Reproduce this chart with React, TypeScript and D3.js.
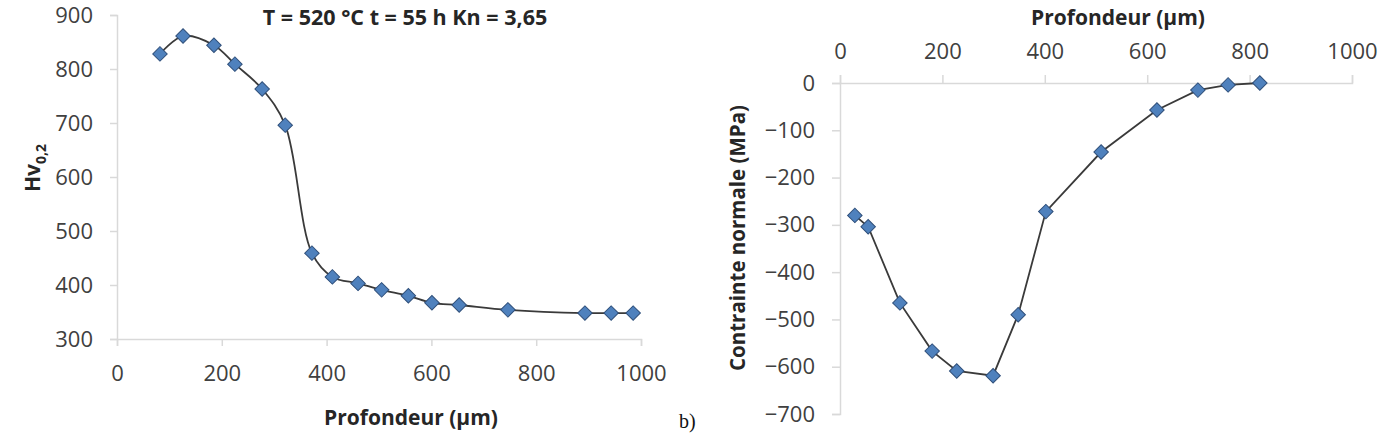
import React, { useEffect, useRef } from 'react';
import * as d3 from 'd3';

// left chart: hardness profile
const hvDepth = [82, 126, 185, 225, 277, 321, 372, 411, 460, 505, 556, 601, 653, 746, 893, 943, 985];
const hvValue = [828, 861, 844, 809, 763, 696, 459, 415, 403, 391, 380, 367, 363, 354, 348, 348, 348];
const hvTicksX = [0, 200, 400, 600, 800, 1000];
const hvTicksY = [300, 400, 500, 600, 700, 800, 900];

// right chart: residual stress profile
const stDepth = [29, 55, 117, 180, 228, 299, 348, 402, 510, 619, 699, 758, 820];
const stValue = [-280, -304, -465, -567, -609, -619, -490, -272, -146, -57, -15, -4, 0];
const stTicksX = [0, 200, 400, 600, 800, 1000];
const stTicksY = [0, -100, -200, -300, -400, -500, -600, -700];

const FONT = "'Open Sans', sans-serif";
const AXIS = '#d9d9d9';
const TXT = '#404040';
const TITLE = '#262626';

function styleAxis(g: any) {
  g.select('.domain').attr('stroke', AXIS).attr('stroke-width', 1.5);
  g.selectAll('.tick line').attr('stroke', AXIS).attr('stroke-width', 1.5);
  g.selectAll('.tick text').attr('fill', TXT).style('font-family', FONT).style('font-size', '22px');
}

function drawSeries(g: any, xs: number[], ys: number[], x: any, y: any, curve: any) {
  const pts = xs.map((d, i) => [d, ys[i]]);
  const line = d3.line<number[]>().x(d => x(d[0])).y(d => y(d[1])).curve(curve);
  g.append('path').attr('d', line(pts)).attr('fill', 'none').attr('stroke', '#3a3a3a').attr('stroke-width', 1.8);
  const sym = d3.symbol().type(d3.symbolSquare).size(105);
  g.selectAll('path.mk').data(pts).join('path')
    .attr('class', 'mk')
    .attr('d', sym)
    .attr('transform', (d: number[]) => `translate(${x(d[0])},${y(d[1])}) rotate(45)`)
    .attr('fill', '#4f81bd')
    .attr('stroke', '#2f4f7a')
    .attr('stroke-width', 1);
}

function App() {
  const ref = useRef<SVGSVGElement>(null);

  useEffect(() => {
    document.body.style.margin = '0';
    const svg = d3.select(ref.current);
    svg.selectAll('*').remove();

    // ---- left chart
    const x1 = d3.scaleLinear().domain([0, 1000]).range([117, 641]);
    const y1 = d3.scaleLinear().domain([300, 900]).range([339, 15]);
    const gx1 = svg.append('g').attr('transform', 'translate(0,339)')
      .call(d3.axisBottom(x1).tickValues(hvTicksX).tickSize(7).tickPadding(19).tickFormat(d3.format('d')));
    styleAxis(gx1);
    const gy1 = svg.append('g').attr('transform', 'translate(117,0)')
      .call(d3.axisLeft(y1).tickValues(hvTicksY).tickSize(7).tickPadding(17).tickFormat(d3.format('d')));
    styleAxis(gy1);
    drawSeries(svg.append('g'), hvDepth, hvValue, x1, y1, d3.curveCatmullRom);

    svg.append('text').attr('x', 405).attr('y', 25).attr('text-anchor', 'middle')
      .style('font-family', FONT).style('font-size', '21.5px').style('font-weight', 'bold').attr('fill', TITLE)
      .text('T = 520 °C t = 55 h Kn = 3,65');
    svg.append('text').attr('x', 411).attr('y', 425).attr('text-anchor', 'middle')
      .style('font-family', FONT).style('font-size', '21px').style('font-weight', 'bold').attr('fill', TITLE)
      .text('Profondeur (µm)');
    const hv = svg.append('text').attr('transform', 'translate(40,168) rotate(-90)').attr('text-anchor', 'middle')
      .style('font-family', FONT).style('font-size', '21px').style('font-weight', 'bold').attr('fill', TITLE);
    hv.append('tspan').text('Hv');
    hv.append('tspan').attr('dy', 6).style('font-size', '14px').text('0,2');

    svg.append('text').attr('x', 679).attr('y', 428)
      .style('font-family', "'Liberation Serif', serif").style('font-size', '20px').attr('fill', '#111')
      .text('b)');

    // ---- right chart
    const x2 = d3.scaleLinear().domain([0, 1000]).range([840, 1352]);
    const y2 = d3.scaleLinear().domain([-700, 0]).range([414, 83]);
    const gx2 = svg.append('g').attr('transform', 'translate(0,83)')
      .call(d3.axisTop(x2).tickValues(stTicksX).tickSize(8).tickPadding(16).tickFormat(d3.format('d')));
    styleAxis(gx2);
    const gy2 = svg.append('g').attr('transform', 'translate(840,0)')
      .call(d3.axisLeft(y2).tickValues(stTicksY).tickSize(8).tickPadding(17).tickFormat(d3.format('d')));
    styleAxis(gy2);
    drawSeries(svg.append('g'), stDepth, stValue, x2, y2, d3.curveLinear);

    svg.append('text').attr('x', 1118).attr('y', 25).attr('text-anchor', 'middle')
      .style('font-family', FONT).style('font-size', '21px').style('font-weight', 'bold').attr('fill', TITLE)
      .text('Profondeur (µm)');
    svg.append('text').attr('transform', 'translate(745,238) rotate(-90)').attr('text-anchor', 'middle')
      .style('font-family', FONT).style('font-size', '20.5px').style('font-weight', 'bold').attr('fill', TITLE)
      .text('Contrainte  normale (MPa)');
  }, []);

  return (
    <div style={{ position: 'absolute', left: 0, top: 0 }}>
      <svg ref={ref} width={1392} height={434} style={{ display: 'block', background: '#fff' }}></svg>
    </div>
  );
}

export default App;
